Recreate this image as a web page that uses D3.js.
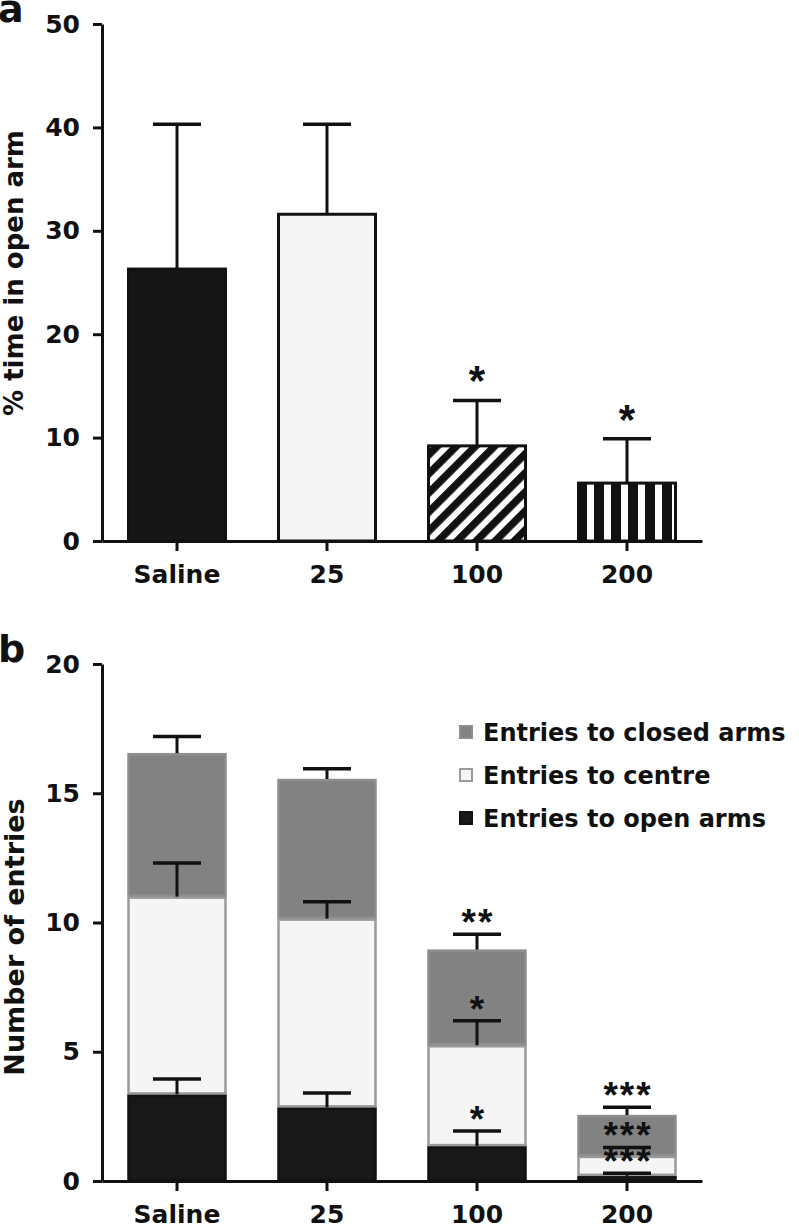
<!DOCTYPE html>
<html>
<head>
<meta charset="utf-8">
<script src="https://cdn.jsdelivr.net/npm/d3@7"></script>
<style>
  body { margin: 0; background: #fff; }
  text { font-family: "DejaVu Sans", sans-serif; font-weight: bold; fill: #111; }
  .star { font-family: "Liberation Sans", Arial, sans-serif; font-weight: bold; }
</style>
</head>
<body>
<div id="chart"></div>
<script>
// groups (x axis)
const groups = ["Saline", "25", "100", "200"];

// panel a: % time in open arm (mean, SEM, significance)
const timeOpen = [26.3, 31.6, 9.2, 5.6];
const timeOpenSem = [14.0, 8.7, 4.4, 4.3];
const timeOpenStars = ["", "", "*", "*"];
const yTicksA = [0, 10, 20, 30, 40, 50];

// panel b: stacked number of entries
const entriesOpen = [3.35, 2.85, 1.35, 0.2];
const entriesCentre = [7.65, 7.3, 3.9, 0.77];
const entriesClosed = [5.55, 5.4, 3.7, 1.58];
const semOpen = [0.6, 0.55, 0.58, 0.1];
const semCentre = [1.3, 0.65, 0.95, 0.33];
const semClosed = [0.65, 0.4, 0.6, 0.3];
const starsOpen = ["", "", "*", "***"];
const starsCentre = ["", "", "*", "***"];
const starsClosed = ["", "", "**", "***"];
const yTicksB = [0, 5, 10, 15, 20];
const legendLabels = ["Entries to closed arms", "Entries to centre", "Entries to open arms"];

const W = 799, H = 1229;
const svg = d3.select("#chart").append("svg")
  .attr("width", W).attr("height", H)
  .style("background", "#fff");

// hatch patterns for panel a
const defs = svg.append("defs");
const diag = defs.append("pattern")
  .attr("id", "diag").attr("patternUnits", "userSpaceOnUse")
  .attr("width", 13.5).attr("height", 13.5)
  .attr("patternTransform", "rotate(45)");
diag.append("rect").attr("width", 13.5).attr("height", 13.5).attr("fill", "#fff");
diag.append("rect").attr("width", 7.5).attr("height", 13.5).attr("fill", "#111");

const x = d3.scaleBand().domain(groups).range([102, 702])
  .paddingInner(1 / 3).paddingOuter(1 / 6);

const vert = defs.append("pattern")
  .attr("id", "vert").attr("patternUnits", "userSpaceOnUse")
  .attr("x", x("200")).attr("width", 17).attr("height", 20);
vert.append("rect").attr("width", 17).attr("height", 20).attr("fill", "#fff");
vert.append("rect").attr("width", 10).attr("height", 20).attr("fill", "#111");

const fillsA = ["#161616", "#f4f4f4", "url(#diag)", "url(#vert)"];

function styleAxis(g) {
  g.selectAll("path, line").attr("stroke", "#111").attr("stroke-width", 3);
  g.selectAll("text").attr("font-size", 25).attr("fill", "#111")
    .style("font-family", "DejaVu Sans").style("font-weight", "bold");
}

function errorBar(g, cx, y0, y1) {
  g.append("line").attr("x1", cx).attr("x2", cx).attr("y1", y0).attr("y2", y1)
    .attr("stroke", "#111").attr("stroke-width", 3);
  g.append("line").attr("x1", cx - 24).attr("x2", cx + 24).attr("y1", y1).attr("y2", y1)
    .attr("stroke", "#111").attr("stroke-width", 3.5);
}

// ---------- panel a ----------
const ya = d3.scaleLinear().domain([0, 50]).range([541, 24]);
const ga = svg.append("g");

ga.selectAll(".barA")
  .data(groups)
  .enter()
  .append("rect")
  .attr("class", "barA")
  .attr("x", d => x(d) + 1.5)
  .attr("width", x.bandwidth() - 3)
  .attr("y", (d, i) => ya(timeOpen[i]))
  .attr("height", (d, i) => ya(0) - ya(timeOpen[i]))
  .attr("fill", (d, i) => fillsA[i])
  .attr("stroke", "#111")
  .attr("stroke-width", 3);

groups.forEach((d, i) => {
  const cx = x(d) + x.bandwidth() / 2;
  errorBar(ga, cx, ya(timeOpen[i]), ya(timeOpen[i] + timeOpenSem[i]));
  if (timeOpenStars[i]) {
    ga.append("text").attr("class", "star")
      .attr("x", cx).attr("y", ya(timeOpen[i] + timeOpenSem[i]) - 29 + 24)
      .attr("text-anchor", "middle").attr("font-size", 42)
      .text(timeOpenStars[i]);
  }
});

ga.append("g").attr("transform", "translate(102,0)")
  .call(d3.axisLeft(ya).tickValues(yTicksA).tickSize(9).tickSizeOuter(0).tickPadding(13))
  .call(styleAxis);
ga.append("g").attr("transform", `translate(0,${ya(0)})`)
  .call(d3.axisBottom(x).tickSize(10).tickSizeOuter(0).tickPadding(14))
  .call(styleAxis);

ga.append("text")
  .attr("transform", "translate(23,273) rotate(-90)")
  .attr("text-anchor", "middle").attr("font-size", 26)
  .text("% time in open arm");
ga.append("text").attr("x", -2).attr("y", 22).attr("font-size", 38).text("a");

// ---------- panel b ----------
const yb = d3.scaleLinear().domain([0, 20]).range([1181, 664]);
const gb = svg.append("g");

const rows = groups.map((g, i) => ({
  group: g, open: entriesOpen[i], centre: entriesCentre[i], closed: entriesClosed[i]
}));
const keys = ["open", "centre", "closed"];
const segFill = { open: "#181818", centre: "#f5f5f5", closed: "#828282" };
const segStroke = { open: "#111", centre: "#9a9a9a", closed: "#8e8e8e" };
const stacked = d3.stack().keys(keys)(rows);

gb.selectAll(".layer")
  .data(stacked)
  .enter()
  .append("g")
  .attr("class", "layer")
  .each(function (layer) {
    d3.select(this).selectAll("rect")
      .data(layer)
      .enter()
      .append("rect")
      .attr("x", d => x(d.data.group) + 1.5)
      .attr("width", x.bandwidth() - 3)
      .attr("y", d => yb(d[1]) + 1)
      .attr("height", d => Math.max(0, yb(d[0]) - yb(d[1]) - 2))
      .attr("fill", segFill[layer.key])
      .attr("stroke", segStroke[layer.key])
      .attr("stroke-width", 2.5);
  });

const sems = { open: semOpen, centre: semCentre, closed: semClosed };
const stars = { open: starsOpen, centre: starsCentre, closed: starsClosed };
stacked.forEach(layer => {
  layer.forEach((d, i) => {
    const cx = x(d.data.group) + x.bandwidth() / 2;
    const capY = yb(d[1] + sems[layer.key][i]);
    errorBar(gb, cx, yb(d[1]), capY);
    if (stars[layer.key][i]) {
      gb.append("text").attr("class", "star")
        .attr("x", cx + 1).attr("y", capY - 20 + 21)
        .attr("text-anchor", "middle").attr("font-size", 37)
        .attr("letter-spacing", 2)
        .text(stars[layer.key][i]);
    }
  });
});

gb.append("g").attr("transform", "translate(102,0)")
  .call(d3.axisLeft(yb).tickValues(yTicksB).tickSize(9).tickSizeOuter(0).tickPadding(13))
  .call(styleAxis);
gb.append("g").attr("transform", `translate(0,${yb(0)})`)
  .call(d3.axisBottom(x).tickSize(10).tickSizeOuter(0).tickPadding(14))
  .call(styleAxis);

gb.append("text")
  .attr("transform", "translate(24,937) rotate(-90)")
  .attr("text-anchor", "middle").attr("font-size", 27)
  .text("Number of entries");
gb.append("text").attr("x", -2).attr("y", 662).attr("font-size", 38).text("b");

// legend
const legendKeys = ["closed", "centre", "open"];
const legend = gb.selectAll(".legend")
  .data(legendKeys)
  .enter()
  .append("g")
  .attr("class", "legend")
  .attr("transform", (d, i) => `translate(460,${732 + i * 43})`);
legend.append("rect")
  .attr("x", 0).attr("y", -6).attr("width", 12).attr("height", 12)
  .attr("fill", d => segFill[d]).attr("stroke", d => segStroke[d]).attr("stroke-width", 2);
legend.append("text")
  .attr("x", 23).attr("dy", "0.36em").attr("font-size", 24)
  .text((d, i) => legendLabels[i]);
</script>
</body>
</html>
